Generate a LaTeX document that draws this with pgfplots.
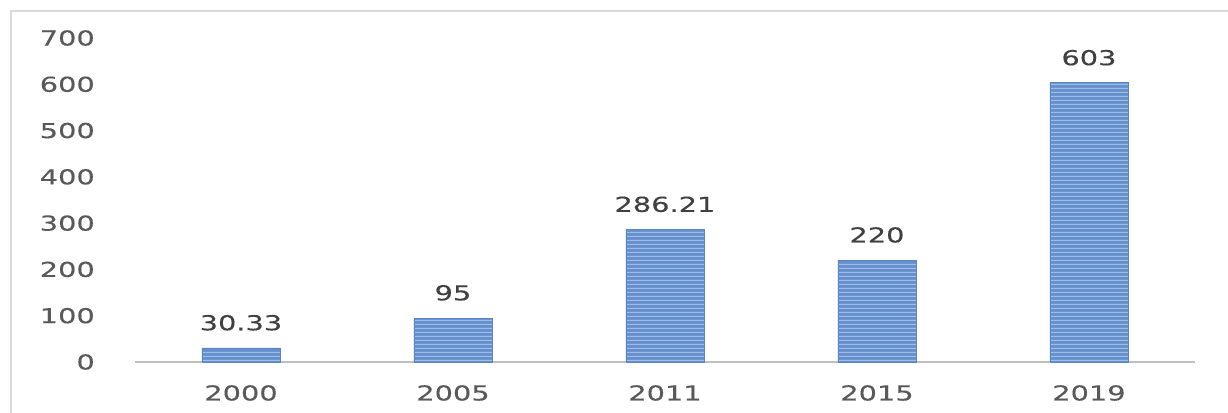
\documentclass[border=0pt]{standalone}
\usepackage{pgfplots}
\pgfplotsset{compat=1.18}
\usepackage{fontspec}
\setmainfont{DejaVu Sans}[FakeStretch=1.4, FakeBold=0.25]
\usetikzlibrary{patterns.meta}
\definecolor{barfill}{HTML}{6590CE}
\definecolor{barstripe}{HTML}{A3BEE6}
\definecolor{baredge}{HTML}{5A84C4}
\definecolor{ticktext}{HTML}{595959}
\definecolor{labtext}{HTML}{404040}
\definecolor{axisgray}{HTML}{BFBFBF}
\definecolor{framegray}{HTML}{D9D9D9}
\tikzdeclarepattern{
  name=hstripes,
  type=uncolored,
  bounding box={(0bp,0bp) and (200bp,4bp)},
  tile size={(200bp,4bp)},
  code={\pgfpathrectangle{\pgfpoint{-1bp}{0bp}}{\pgfpoint{202bp}{1.5bp}}\pgfusepath{fill}}
}
\pgfplotstableread{
x val lab
0 30.33 30.33
1 95 95
2 286.21 286.21
3 220 220
4 603 603
}\datatable
\begin{document}
\fontsize{20.6bp}{24bp}\selectfont
\begin{tikzpicture}
\useasboundingbox (-135bp,-51bp) rectangle (1093bp,362bp);
\draw[framegray, line width=1.5bp] (-124bp,-51bp) -- (-124bp,351bp) -- (1093bp,351bp);
\begin{axis}[
  at={(0,0)}, anchor=south west,
  scale only axis,
  width=1060bp, height=324bp,
  xmin=-0.5, xmax=4.5,
  ymin=0, ymax=700,
  ytick={0,100,...,700},
  xtick={0,1,2,3,4},
  xticklabels={2000,2005,2011,2015,2019},
  axis x line=bottom,
  axis y line=left,
  axis line style={-},
  x axis line style={draw=axisgray, line width=2.5bp},
  y axis line style={draw=none},
  major tick length=0pt,
  /pgf/number format/assume math mode=true,
  ticklabel style={font=\fontsize{20.6bp}{24bp}\selectfont, text=ticktext, inner sep=0pt},
  yticklabel style={anchor=east, xshift=-40bp},
  xticklabel style={anchor=north, yshift=-23bp},
  ybar,
  bar width=78bp,
  bar shift=0pt,
  nodes near coords,
  point meta=explicit symbolic,
  every node near coord/.append style={font=\fontsize{20.6bp}{24bp}\selectfont, text=labtext, inner sep=0pt, anchor=south, yshift=17bp},
  clip=false,
]
\addplot[fill=barfill, draw=baredge, line width=0.8bp,
  postaction={pattern={hstripes}, pattern color=barstripe}]
  table[x=x, y=val, meta=lab] {\datatable};
\end{axis}
\end{tikzpicture}
\end{document}
